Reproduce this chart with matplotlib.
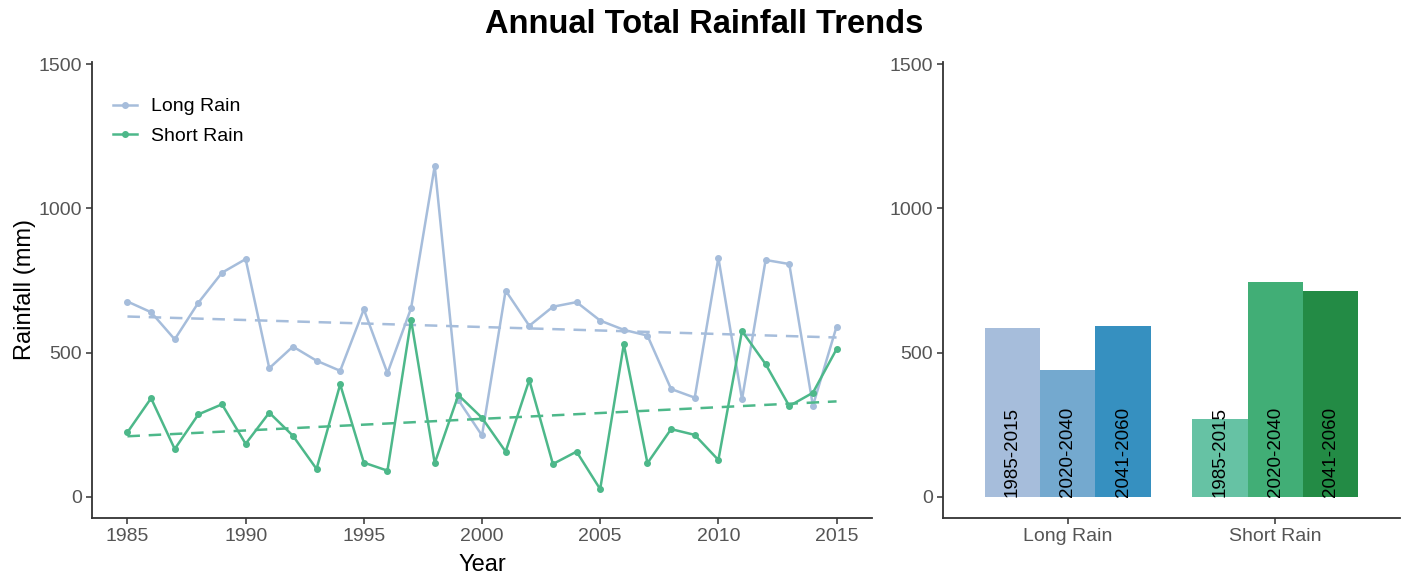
import numpy as np
import matplotlib
matplotlib.use("Agg")
import matplotlib.pyplot as plt

plt.rcParams['font.family'] = ['Liberation Sans', 'DejaVu Sans']

years = list(range(1985, 2016))
long_rain = [677, 640, 546, 673, 777, 824, 446, 521, 472, 437, 650, 429, 654, 1147, 336, 213,
             715, 593, 659, 675, 611, 579, 559, 374, 344, 829, 338, 821, 807, 316, 590]
short_rain = [224, 342, 166, 286, 321, 184, 292, 212, 97, 390, 119, 91, 613, 117, 353, 274,
              157, 405, 114, 157, 27, 529, 117, 235, 215, 128, 575, 460, 315, 361, 512]

series_names = ["Long Rain", "Short Rain"]
periods = ["1985-2015", "2020-2040", "2041-2060"]
bar_long = [587, 440, 592]
bar_short = [269, 743, 715]

line_colors = ["#a6bddb", "#4db88a"]
bar_colors_long = ["#a6bddb", "#74a9cf", "#3690c0"]
bar_colors_short = ["#66c2a4", "#41ae76", "#238b45"]

tick_color = "#555555"
spine_color = "#333333"

fig = plt.figure(figsize=(14.08, 5.78), dpi=100)
ax1 = fig.add_axes([92/1408, 1-518/578, (872-92)/1408, (518-62)/578])
ax2 = fig.add_axes([943/1408, 1-518/578, (1400-943)/1408, (518-62)/578])

yrs = np.array(years)
for vals, col, name in zip([long_rain, short_rain], line_colors, series_names):
    ax1.plot(yrs, vals, color=col, lw=1.8, marker='o', ms=4, label=name)
    coef = np.polyfit(yrs, vals, 1)
    ax1.plot(yrs, np.polyval(coef, yrs), color=col, lw=1.8, ls=(0, (5, 3.5)))

ax1.set_xlim(1983.5, 2016.5)
ax1.set_ylim(-73, 1507)
ax1.set_xticks([1985, 1990, 1995, 2000, 2005, 2010, 2015])
ax1.set_yticks([0, 500, 1000, 1500])
ax1.set_xlabel("Year", fontsize=17, labelpad=7)
ax1.set_ylabel("Rainfall (mm)", fontsize=17, labelpad=2)
leg = ax1.legend(loc='upper left', bbox_to_anchor=(0.005, 0.96), frameon=False, fontsize=14,
                 handlelength=1.2, handletextpad=0.75, labelspacing=0.6)

width = 0.8 / 3
x = np.array([1, 2])
for i, p in enumerate(periods):
    pos = x - width + i * width
    vals = [bar_long[i], bar_short[i]]
    cols = [bar_colors_long[i], bar_colors_short[i]]
    ax2.bar(pos, vals, width=width, color=cols)
    for xp in pos:
        ax2.text(xp, 0, p, rotation=90, ha='center', va='bottom', fontsize=13.5, color='black')

ax2.set_xlim(0.4, 2.6)
ax2.set_ylim(-73, 1507)
ax2.set_xticks(x)
ax2.set_xticklabels(series_names)
ax2.set_yticks([0, 500, 1000, 1500])

for ax in (ax1, ax2):
    for s in ['top', 'right']:
        ax.spines[s].set_visible(False)
    for s in ['left', 'bottom']:
        ax.spines[s].set_color(spine_color)
        ax.spines[s].set_linewidth(1.3)
    ax.tick_params(axis='both', colors=spine_color, length=4, width=1.1, labelsize=14,
                   labelcolor=tick_color, pad=3)

fig.suptitle("Annual Total Rainfall Trends", fontsize=23.5, fontweight='bold', x=0.5, y=0.985)

fig.savefig("out.png", dpi=100)
